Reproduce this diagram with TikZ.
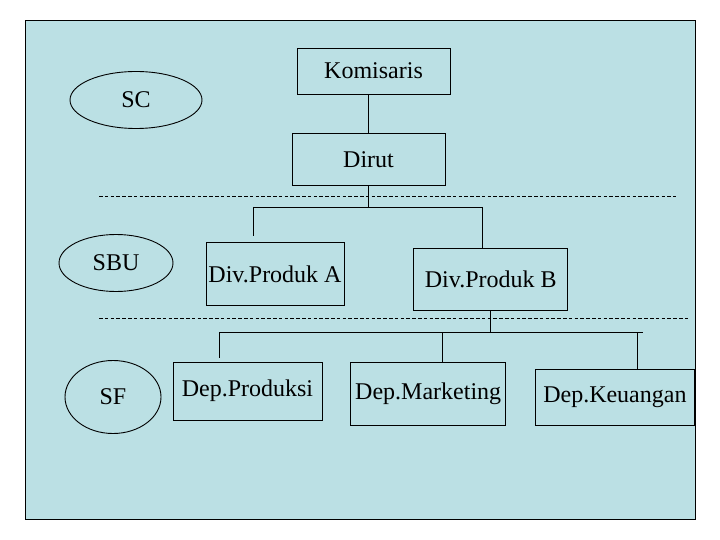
\documentclass[tikz,border=0pt]{standalone}
\usepackage{fontspec}
\setmainfont{Liberation Serif}
\usepackage{xcolor}
\usetikzlibrary{shapes,positioning}
\definecolor{bgblue}{RGB}{187,224,228}

\begin{document}
\begin{tikzpicture}[x=1pt, y=-1pt,
    unit/.style={rectangle, draw, line width=0.7pt, inner sep=0pt, text centered, font=\fontsize{24}{28}\selectfont},
    level/.style={ellipse, draw, line width=0.9pt, inner sep=0pt, font=\fontsize{24}{28}\selectfont},
    line/.style={line width=0.7pt},
    sep/.style={line width=0.6pt, dash pattern=on 3.5pt off 2.3pt}
]
\useasboundingbox (0,0) rectangle (720,540);

% Background
\draw [line width=0.8pt, fill=bgblue] (25,20) rectangle (695,519);

% Top level
\node [unit, minimum width=153pt, minimum height=46pt] (komisaris) at (373.5,71) {Komisaris};
\node [unit, minimum width=153pt, minimum height=52pt, below=39pt of komisaris, xshift=-5pt] (dirut) {Dirut};

% Divisions
\node [unit, minimum width=138pt, minimum height=63pt, below=56pt of dirut, xshift=-93.5pt] (diva) {Div.Produk A};
\node [unit, minimum width=154pt, minimum height=62pt, right=69pt of diva, yshift=-5.5pt] (divb) {Div.Produk B};

% Departments
\node [unit, minimum width=149pt, minimum height=58pt, below=56pt of diva, xshift=-27.5pt] (depprod) {Dep.Produksi};
\node [unit, minimum width=155pt, minimum height=63pt, right=28pt of depprod, yshift=-2.5pt] (depmark) {Dep.Marketing};
\node [unit, minimum width=159pt, minimum height=56pt, right=29pt of depmark, yshift=-3.5pt] (depkeu) {Dep.Keuangan};

% Strategy levels
\node [level, minimum width=132pt, minimum height=57pt] (sc) at (136,100) {SC};
\node [level, minimum width=114pt, minimum height=57pt] (sbu) at (116,263) {SBU};
\node [level, minimum width=96pt, minimum height=73pt] (sf) at (113,397) {SF};

% Level separators
\draw [sep] (99,196) -- (676,196);
\draw [sep] (99,318) -- (688,318);

% Junctions
\coordinate (j1) at (368.5,207);
\coordinate (ja) at (253,207);
\coordinate (jaend) at (253,236);
\coordinate (jb) at (482,207);
\coordinate (kl) at (219,332);
\coordinate (klend) at (219,358);
\coordinate (km) at (442,332);
\coordinate (kk) at (637,332);
\coordinate (kr) at (643,332);

% Connectors
\draw [line] (komisaris.south -| dirut.north) -- (dirut.north);
\draw [line] (dirut.south) -- (j1);
\draw [line] (ja) -- (jb);
\draw [line] (ja) -- (jaend);
\draw [line] (jb) -- (jb |- divb.north);

\draw [line] (divb.south) -- (divb.south |- kl);
\draw [line] (kl) -- (kr);
\draw [line] (kl) -- (klend);
\draw [line] (km) -- (km |- depmark.north);
\draw [line] (kk) -- (kk |- depkeu.north);

\end{tikzpicture}
\end{document}
